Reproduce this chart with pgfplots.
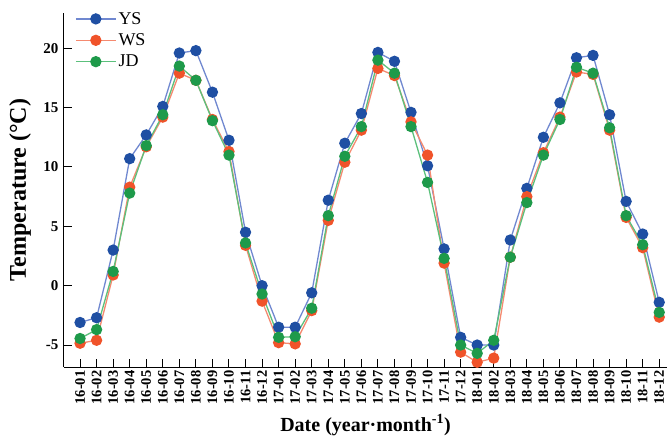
\documentclass[border=0pt]{standalone}
\usepackage{pgfplots}
\pgfplotsset{compat=1.18}
\usepackage{fontspec}
\setmainfont{Liberation Serif}
\definecolor{ysm}{HTML}{1F4FA3}
\definecolor{ysl}{HTML}{7088D0}
\definecolor{wsm}{HTML}{F0532A}
\definecolor{wsl}{HTML}{F58A70}
\definecolor{jdm}{HTML}{1E9A4A}
\definecolor{jdl}{HTML}{5CC07C}
\begin{document}
\begin{tikzpicture}
\useasboundingbox (-64pt,-72pt) rectangle (604pt,367pt);
\begin{axis}[
  at={(0pt,0pt)}, anchor=south west,
  scale only axis,
  width=603pt, height=354pt,
  xmin=-0.97, xmax=35.47,
  ymin=-6.85, ymax=22.97,
  axis x line=bottom, axis y line=left,
  axis line style={-, line width=1pt},
  tick align=inside,
  major tick length=8pt,
  tick style={line width=1pt, black},
  xtick={0,...,35},
  xticklabels={16-01,16-02,16-03,16-04,16-05,16-06,16-07,16-08,16-09,16-10,16-11,16-12,17-01,17-02,17-03,17-04,17-05,17-06,17-07,17-08,17-09,17-10,17-11,17-12,18-01,18-02,18-03,18-04,18-05,18-06,18-07,18-08,18-09,18-10,18-11,18-12},
  ytick={-5,0,5,10,15,20},
  /pgf/number format/assume math mode=true,
  xticklabel style={rotate=90, anchor=east, font=\bfseries\fontsize{14.5}{14.5}\selectfont},
  yticklabel style={font=\bfseries\fontsize{15}{15}\selectfont, xshift=-2pt},
  every axis x label/.style={at={(axis description cs:0.5,0)}, yshift=-58pt, anchor=center},
  every axis y label/.style={at={(axis description cs:0,0.5)}, xshift=-44pt, rotate=90, anchor=center},
  xlabel={\bfseries\fontsize{20}{20}\selectfont Date (year·month\textsuperscript{-1})},
  ylabel={\bfseries\fontsize{24}{24}\selectfont Temperature (°C)},
  legend style={at={(0,1)}, anchor=north west, draw=none, fill=none,
    font=\fontsize{18}{18}\selectfont, row sep=4pt, xshift=8pt, yshift=5pt},
  legend cell align=left,
  legend image code/.code={\draw[#1, mark repeat=2, mark phase=2] plot coordinates {(0pt,0pt) (20pt,0pt) (40pt,0pt)};},
  every axis plot/.append style={line width=1.3pt},
]
\addplot[color=ysl, mark=*, mark size=5pt, mark options={fill=ysm, draw=ysm}] coordinates {
(0,-3.1) (1,-2.7) (2,3.0) (3,10.7) (4,12.7) (5,15.1) (6,19.6) (7,19.8) (8,16.3) (9,12.25) (10,4.5) (11,0.0)
(12,-3.5) (13,-3.5) (14,-0.6) (15,7.2) (16,12.0) (17,14.5) (18,19.65) (19,18.9) (20,14.6) (21,10.1) (22,3.1) (23,-4.35)
(24,-5.0) (25,-5.0) (26,3.85) (27,8.2) (28,12.5) (29,15.4) (30,19.2) (31,19.4) (32,14.4) (33,7.1) (34,4.35) (35,-1.4)};
\addlegendentry{YS}
\addplot[color=wsl, mark=*, mark size=5pt, mark options={fill=wsm, draw=wsm}] coordinates {
(0,-4.85) (1,-4.6) (2,0.9) (3,8.3) (4,11.7) (5,14.2) (6,17.9) (7,17.3) (8,14.0) (9,11.3) (10,3.4) (11,-1.3)
(12,-4.8) (13,-4.9) (14,-2.1) (15,5.5) (16,10.4) (17,13.1) (18,18.3) (19,17.7) (20,13.8) (21,11.0) (22,1.9) (23,-5.6)
(24,-6.45) (25,-6.1) (26,2.4) (27,7.5) (28,11.2) (29,14.2) (30,18.0) (31,17.8) (32,13.1) (33,5.75) (34,3.2) (35,-2.65)};
\addlegendentry{WS}
\addplot[color=jdl, mark=*, mark size=5pt, mark options={fill=jdm, draw=jdm}] coordinates {
(0,-4.45) (1,-3.7) (2,1.2) (3,7.8) (4,11.8) (5,14.4) (6,18.5) (7,17.3) (8,13.9) (9,11.0) (10,3.6) (11,-0.7)
(12,-4.35) (13,-4.3) (14,-1.9) (15,5.9) (16,10.9) (17,13.4) (18,19.0) (19,17.9) (20,13.4) (21,8.7) (22,2.3) (23,-5.0)
(24,-5.7) (25,-4.6) (26,2.4) (27,7.0) (28,11.0) (29,14.0) (30,18.4) (31,17.9) (32,13.3) (33,5.9) (34,3.45) (35,-2.25)};
\addlegendentry{JD}
\end{axis}
\end{tikzpicture}
\end{document}
